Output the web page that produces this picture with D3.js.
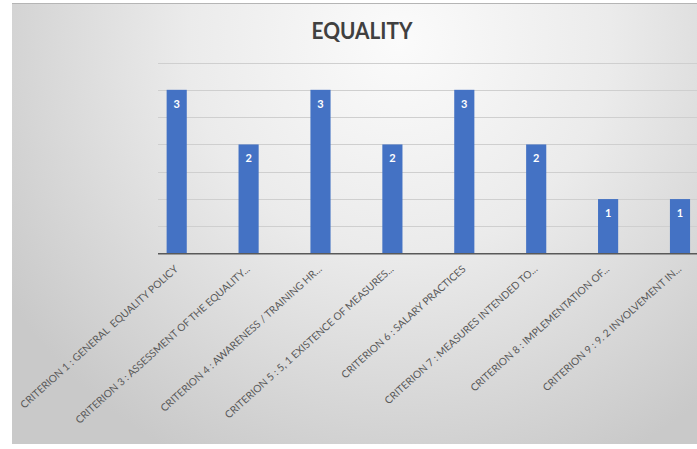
<!DOCTYPE html>
<html>
<head>
<meta charset="utf-8">
<script src="https://cdnjs.cloudflare.com/ajax/libs/d3/7.8.5/d3.min.js"></script>
<style>
  html, body { margin: 0; padding: 0; background: #ffffff; }
  svg { display: block; }
  text { white-space: pre; }
</style>
</head>
<body>
<svg id="chart" width="697" height="449"></svg>
<script>
const title = "EQUALITY";
const categories = [
  "CRITERION 1 : GENERAL  EQUALITY POLICY",
  "CRITERION 3 : ASSESSMENT OF THE EQUALITY...",
  "CRITERION 4 : AWARENESS / TRAINING HR...",
  "CRITERION 5 : 5, 1 EXISTENCE OF MEASURES...",
  "CRITERION 6 : SALARY PRACTICES",
  "CRITERION 7 : MEASURES INTENDED TO...",
  "CRITERION 8 : IMPLEMENTATION OF...",
  "CRITERION 9 : 9. 2 INVOLVEMENT IN..."
];
const values = [3, 2, 3, 2, 3, 2, 1, 1];
const gridTicks = [0.5, 1, 1.5, 2, 2.5, 3, 3.5];

const svg = d3.select("#chart");
const W = 697, H = 449;

const defs = svg.append("defs");
const grad = defs.append("radialGradient")
  .attr("id", "bg")
  .attr("gradientUnits", "userSpaceOnUse")
  .attr("cx", 400).attr("cy", 40).attr("r", 470);
grad.append("stop").attr("offset", "0").attr("stop-color", "#fbfbfb");
grad.append("stop").attr("offset", "0.45").attr("stop-color", "#ebebeb");
grad.append("stop").attr("offset", "1").attr("stop-color", "#c9c9c9");

svg.append("rect").attr("x", 12).attr("y", 3).attr("width", W - 12).attr("height", 441)
  .attr("fill", "url(#bg)");
svg.append("line").attr("x1", 12).attr("x2", W).attr("y1", 3.5).attr("y2", 3.5)
  .attr("stroke", "#b5b5b5").attr("stroke-width", 1);

const plotLeft = 158;
const x = d3.scaleBand()
  .domain(categories)
  .range([140.75, 715.95])
  .paddingInner(0.72)
  .paddingOuter(0.36);
const y = d3.scaleLinear().domain([0, 3.5]).range([253.7, 62.5]);

svg.append("g").selectAll("line").data(gridTicks).join("line")
  .attr("x1", plotLeft).attr("x2", W)
  .attr("y1", d => Math.round(y(d)) + 0.5).attr("y2", d => Math.round(y(d)) + 0.5)
  .attr("stroke", "#cfcfcf").attr("stroke-width", 1.2);

svg.append("g").selectAll("rect").data(values).join("rect")
  .attr("x", (d, i) => x(categories[i]))
  .attr("width", x.bandwidth())
  .attr("y", d => y(d))
  .attr("height", d => y(0) - y(d))
  .attr("fill", "#4472C4");

svg.append("g").selectAll("text").data(values).join("text")
  .attr("x", (d, i) => x(categories[i]) + x.bandwidth() / 2)
  .attr("y", d => y(d) + 18)
  .attr("text-anchor", "middle")
  .attr("font-family", "Lato, 'Open Sans', sans-serif")
  .attr("font-weight", "bold")
  .attr("font-size", 11)
  .attr("fill", "#ffffff")
  .text(d => d);

svg.append("line").attr("x1", plotLeft).attr("x2", W)
  .attr("y1", y(0)).attr("y2", y(0))
  .attr("stroke", "#595959").attr("stroke-width", 1.6);

const labels = svg.append("g").selectAll("text").data(categories).join("text")
  .attr("transform", d => `translate(${x(d) + x.bandwidth() / 2 + 2},${270}) rotate(-42)`)
  .attr("text-anchor", "end")
  .attr("font-family", "Lato, 'Open Sans', sans-serif")
  .attr("font-size", 10)
  .attr("fill", "#595959")
  .text(d => d);
const len0 = labels.nodes()[0].getComputedTextLength();
labels.attr("font-size", 10 * 208 / len0);

svg.append("text")
  .attr("x", 362).attr("y", 39)
  .attr("text-anchor", "middle")
  .attr("font-family", "Lato, 'Open Sans', sans-serif")
  .attr("font-weight", "bold")
  .attr("font-size", 23)
  .attr("textLength", 101)
  .attr("lengthAdjust", "spacingAndGlyphs")
  .attr("fill", "#404040")
  .text(title);
</script>
</body>
</html>
